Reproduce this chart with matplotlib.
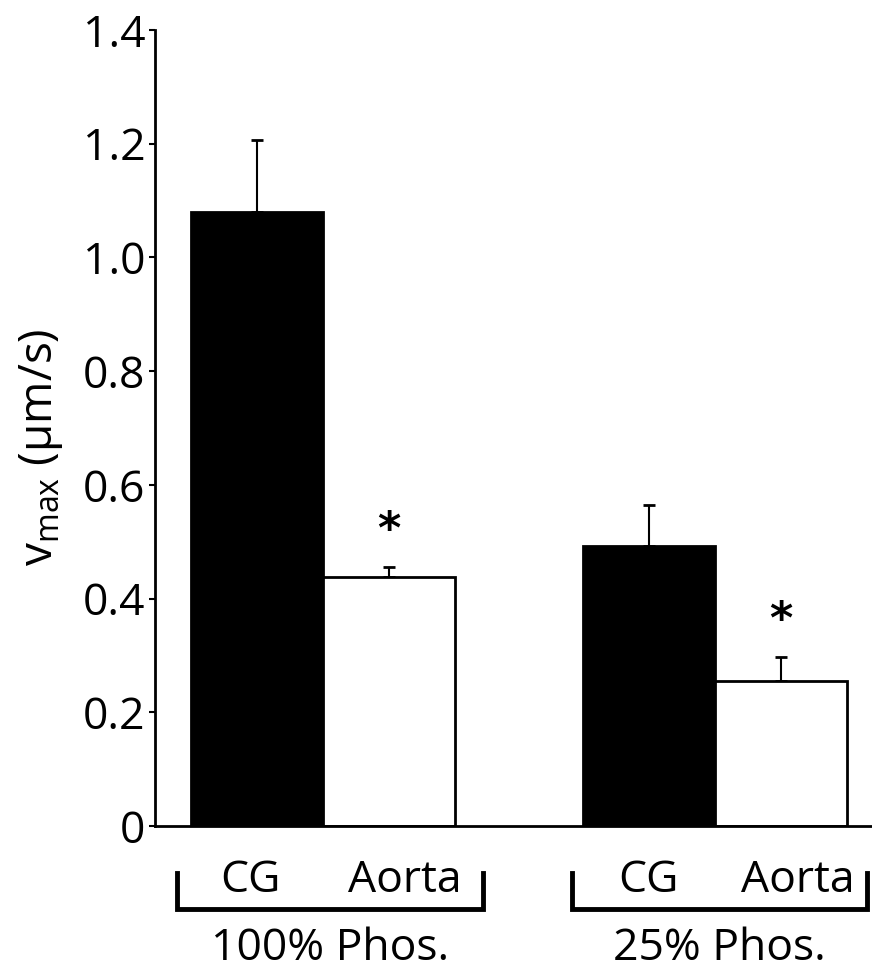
import matplotlib
matplotlib.use("Agg")
import matplotlib.pyplot as plt
import matplotlib.transforms as mtransforms

plt.rcParams['font.family'] = ['Open Sans', 'DejaVu Sans']

# Data
groups = ["100% Phos.", "25% Phos."]
tissues = ["CG", "Aorta"]
means = [1.08, 0.438, 0.492, 0.255]
errors = [0.126, 0.017, 0.073, 0.042]
bar_colors = ["black", "white", "black", "white"]
significant = [False, True, False, True]
yticks = [0, 0.2, 0.4, 0.6, 0.8, 1.0, 1.2, 1.4]
ytick_labels = ["0", "0.2", "0.4", "0.6", "0.8", "1.0", "1.2", "1.4"]

positions = [0.0, 1.0, 2.97, 3.97]

fig = plt.figure(figsize=(8.72, 9.74), dpi=100)
ax = fig.add_axes([155/872, (974-826)/974, 717/872, 796/974])

ax.bar(positions, means, width=1.0, color=bar_colors, edgecolor="black",
       linewidth=2, zorder=2)
ax.errorbar(positions, means, yerr=[[0]*4, errors], fmt="none", ecolor="black",
            elinewidth=1.5, capsize=4, capthick=2, zorder=1)

for p, m, e, s in zip(positions, means, errors, significant):
    if s:
        ax.text(p, m + e + 0.065, "*", ha="center", va="center",
                fontsize=32, fontweight="bold", family="DejaVu Sans")

ax.set_xlim(-0.773, 4.66)
ax.set_ylim(0, 1.4)
ax.set_yticks(yticks)
ax.set_yticklabels(ytick_labels, fontsize=32)
ax.set_xticks([])
ax.tick_params(axis="y", direction="out", length=4, width=1.5, pad=3)
for side in ["top", "right"]:
    ax.spines[side].set_visible(False)
ax.spines["left"].set_linewidth(2)
ax.spines["bottom"].set_linewidth(2)

ax.set_ylabel(r"v$_{\mathregular{max}}$ ($\mathregular{\mu}$m/s)", fontsize=33)
ax.yaxis.set_label_coords(-0.125, 0.476)

trans = mtransforms.blended_transform_factory(ax.transData, ax.transAxes)
bracket_x = [(-0.606, 1.712), (2.386, 4.62)]
label_offsets = [(-0.053, 1.12), (0.0, 1.128)]
for gi, (g, (x0, x1)) in enumerate(zip(groups, bracket_x)):
    ax.plot([x0, x0, x1, x1], [-0.059, -0.104, -0.104, -0.059], color="black",
            lw=3.5, transform=trans, clip_on=False, solid_joinstyle="miter")
    base = positions[2*gi]
    ax.text(base + label_offsets[gi][0], -0.083, tissues[0], transform=trans,
            ha="center", va="baseline", fontsize=32)
    ax.text(base + label_offsets[gi][1], -0.083, tissues[1], transform=trans,
            ha="center", va="baseline", fontsize=32)
    ax.text((x0 + x1) / 2, -0.168, g, transform=trans, ha="center",
            va="baseline", fontsize=32)

fig.savefig("out.png", dpi=100)
